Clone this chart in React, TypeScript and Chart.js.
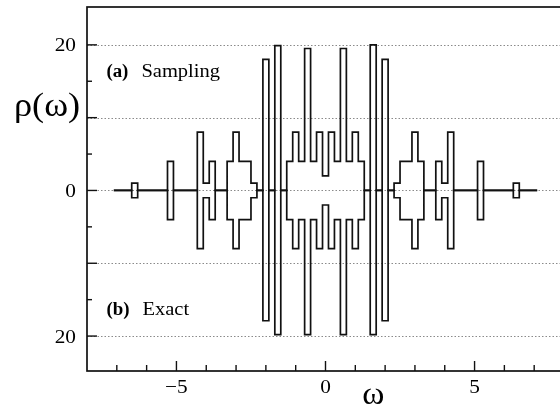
import React, { useEffect, useRef } from 'react';
import { Chart, registerables } from 'chart.js';

Chart.register(...registerables);

// Histogram bin centres (bin width 0.2)
const BIN = 0.2;
const omega = [
  -7.0, -6.8, -6.6, -6.4, -6.2, -6.0, -5.8, -5.6, -5.4, -5.2,
  -5.0, -4.8, -4.6, -4.4, -4.2, -4.0, -3.8, -3.6, -3.4, -3.2,
  -3.0, -2.8, -2.6, -2.4, -2.2, -2.0, -1.8, -1.6, -1.4, -1.2,
  -1.0, -0.8, -0.6, -0.4, -0.2, 0.0, 0.2, 0.4, 0.6, 0.8,
  1.0, 1.2, 1.4, 1.6, 1.8, 2.0, 2.2, 2.4, 2.6, 2.8,
  3.0, 3.2, 3.4, 3.6, 3.8, 4.0, 4.2, 4.4, 4.6, 4.8,
  5.0, 5.2, 5.4, 5.6, 5.8, 6.0, 6.2, 6.4, 6.6, 6.8,
  7.0,
];

// (a) density of states from sampling
const rhoSampling = [
  0, 0, 0, 1, 0, 0, 0, 0, 0, 4,
  0, 0, 0, 0, 8, 1, 4, 0, 0, 4,
  8, 4, 4, 1, 0, 18, 0, 19.9, 0, 4,
  8, 4, 19.5, 4, 8, 2, 8, 4, 19.5, 4,
  8, 4, 0, 20, 0, 18, 0, 1, 4, 4,
  8, 4, 0, 0, 4, 1, 8, 0, 0, 0,
  0, 4, 0, 0, 0, 0, 0, 1, 0, 0,
  0,
];

// (b) exact density of states (drawn downwards)
const rhoExact = [
  0, 0, 0, 1, 0, 0, 0, 0, 0, 4,
  0, 0, 0, 0, 8, 1, 4, 0, 0, 4,
  8, 4, 4, 1, 0, 17.9, 0, 19.8, 0, 4,
  8, 4, 19.8, 4, 8, 2, 8, 4, 19.8, 4,
  8, 4, 0, 19.8, 0, 17.9, 0, 1, 4, 4,
  8, 4, 0, 0, 4, 1, 8, 0, 0, 0,
  0, 4, 0, 0, 0, 0, 0, 1, 0, 0,
  0,
];

// Axis ticks
const xMajorTicks = [-5, 0, 5];
const xMinorTicks = [-7, -6, -4, -3, -2, -1, 1, 2, 3, 4, 6, 7];
const yMajorTicks = [-20, -10, 0, 10, 20];
const yMinorTicks = [-15, -5, 5, 15];
const yLabelledTicks = [20, 0, -20];

const SERIF = '"Liberation Serif", "DejaVu Serif", serif';

function stepPoints(vals: number[]) {
  const pts = omega.map((w, i) => ({ x: w - BIN / 2, y: vals[i] }));
  pts.push({ x: omega[omega.length - 1] + BIN / 2, y: 0 });
  return pts;
}

function drawText(
  ctx: CanvasRenderingContext2D,
  text: string,
  x: number,
  y: number,
  font: string,
  align: 'left' | 'center' | 'right',
  sx = 1.12,
) {
  ctx.save();
  ctx.font = font;
  const w = ctx.measureText(text).width * sx;
  const left = align === 'center' ? x - w / 2 : align === 'right' ? x - w : x;
  ctx.translate(left, y);
  ctx.scale(sx, 1);
  ctx.textAlign = 'left';
  ctx.textBaseline = 'alphabetic';
  ctx.fillStyle = '#000';
  ctx.fillText(text, 0, 0);
  ctx.restore();
}

const fmt = (v: number) => (v < 0 ? '\u2212' + Math.abs(v) : String(v));

const gridPlugin = {
  id: 'dottedGrid',
  beforeDatasetsDraw(chart: any) {
    const { ctx, chartArea: a, scales } = chart;
    const y = scales.y;
    ctx.save();
    ctx.strokeStyle = '#8a8a8a';
    ctx.lineWidth = 1;
    ctx.setLineDash([1.5, 2]);
    yMajorTicks.forEach((v) => {
      const py = Math.round(y.getPixelForValue(v)) + 0.5;
      ctx.beginPath();
      ctx.moveTo(a.left, py);
      ctx.lineTo(a.right, py);
      ctx.stroke();
    });
    ctx.restore();
  },
};

const framePlugin = {
  id: 'frameTicksText',
  afterDraw(chart: any) {
    const { ctx, chartArea: a, scales } = chart;
    const x = scales.x;
    const y = scales.y;
    ctx.save();
    ctx.strokeStyle = '#111';
    ctx.lineWidth = 1.7;
    ctx.strokeRect(a.left, a.top, a.right - a.left, a.bottom - a.top);

    ctx.lineWidth = 1.4;
    const seg = (x1: number, y1: number, x2: number, y2: number) => {
      ctx.beginPath();
      ctx.moveTo(x1, y1);
      ctx.lineTo(x2, y2);
      ctx.stroke();
    };
    yMajorTicks.forEach((v) => {
      const py = y.getPixelForValue(v);
      seg(a.left, py, a.left + 10, py);
    });
    yMinorTicks.forEach((v) => {
      const py = y.getPixelForValue(v);
      seg(a.left, py, a.left + 5, py);
    });
    xMajorTicks.forEach((v) => {
      const px = x.getPixelForValue(v);
      seg(px, a.bottom, px, a.bottom - 10);
    });
    xMinorTicks.forEach((v) => {
      const px = x.getPixelForValue(v);
      seg(px, a.bottom, px, a.bottom - 6);
    });
    ctx.restore();

    const tickFont = `19px ${SERIF}`;
    yLabelledTicks.forEach((v) => {
      drawText(ctx, String(Math.abs(v)), a.left - 11, y.getPixelForValue(v) + 6.5, tickFont, 'right');
    });
    xMajorTicks.forEach((v) => {
      drawText(ctx, fmt(v), x.getPixelForValue(v), a.bottom + 22, tickFont, 'center');
    });

    // axis titles
    drawText(ctx, '\u03c1(\u03c9)', 14, y.getPixelForValue(10.2), `33px ${SERIF}`, 'left', 1.1);
    drawText(ctx, '\u03c9', x.getPixelForValue(1.6), a.bottom + 33, `32px ${SERIF}`, 'center', 1.05);

    // panel labels
    const lx = x.getPixelForValue(-7.35);
    const boldFont = `bold 18px ${SERIF}`;
    const plainFont = `18px ${SERIF}`;
    const ya = y.getPixelForValue(15.6);
    drawText(ctx, '(a)', lx, ya, boldFont, 'left', 1.05);
    drawText(ctx, 'Sampling', lx + 35, ya, plainFont, 'left', 1.14);
    const yb = y.getPixelForValue(-17.1);
    drawText(ctx, '(b)', lx, yb, boldFont, 'left', 1.05);
    drawText(ctx, 'Exact', lx + 36, yb, plainFont, 'left', 1.14);
  },
};

export default function App() {
  const ref = useRef<HTMLCanvasElement>(null);

  useEffect(() => {
    if (!ref.current) return;
    const chart = new Chart(ref.current, {
      type: 'line',
      data: {
        datasets: [
          {
            label: 'Sampling',
            data: stepPoints(rhoSampling),
            stepped: true,
            borderColor: '#111',
            borderWidth: 1.7,
            pointRadius: 0,
            fill: false,
          },
          {
            label: 'Exact',
            data: stepPoints(rhoExact.map((v) => -v)),
            stepped: true,
            borderColor: '#111',
            borderWidth: 1.7,
            pointRadius: 0,
            fill: false,
          },
        ],
      },
      options: {
        animation: false,
        responsive: false,
        devicePixelRatio: 1,
        parsing: false,
        layout: { padding: { top: 7, left: 87, right: 0, bottom: 36 } },
        plugins: { legend: { display: false }, tooltip: { enabled: false } },
        scales: {
          x: { type: 'linear', min: -8, max: 8, display: false },
          y: { type: 'linear', min: -24.8, max: 25.2, display: false },
        },
      },
      plugins: [gridPlugin, framePlugin],
    });
    return () => chart.destroy();
  }, []);

  return (
    <div
      style={{
        position: 'fixed',
        left: 0,
        top: 0,
        width: 560,
        height: 407,
        overflow: 'hidden',
        background: '#fff',
      }}
    >
      <canvas ref={ref} width={564} height={407} style={{ display: 'block' }} />
    </div>
  );
}
